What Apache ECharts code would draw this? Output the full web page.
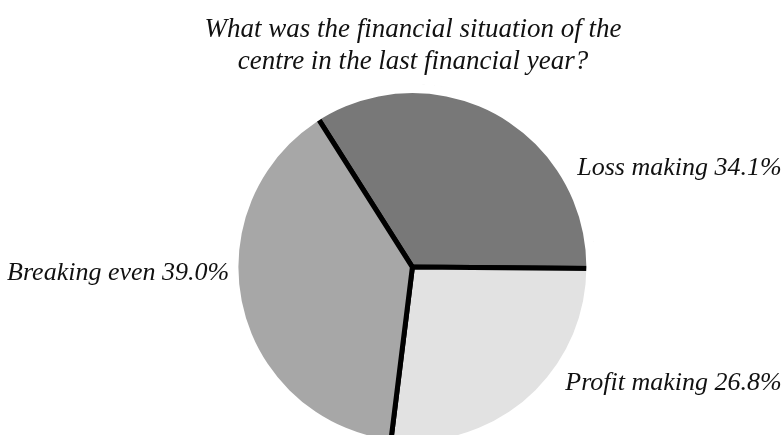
<!DOCTYPE html>
<html>
<head>
<meta charset="utf-8">
<script src="https://cdn.jsdelivr.net/npm/echarts@6/dist/echarts.min.js"></script>
<style>
html, body { margin: 0; padding: 0; background: #fff; }
#chart { width: 784px; height: 435px; }
</style>
</head>
<body>
<div id="chart"></div>
<script>
var categories = ['Loss making', 'Profit making', 'Breaking even'];
var shares = [34.1, 26.8, 39.0];
var colors = ['#787878', '#e2e2e2', '#a7a7a7'];
// where each label sits, as fractions of the chart box
var labelSpots = [[0.997, 0.386, 'right'], [0.997, 0.881, 'right'], [0.009, 0.628, 'left']];

var serif = '"Liberation Serif", "DejaVu Serif", serif';
var myChart = echarts.init(document.getElementById('chart'));

var pieData = categories.map(function (name, i) {
    return { name: name, value: shares[i], itemStyle: { color: colors[i] } };
});

myChart.setOption({
    animation: false,
    title: {
        text: 'What was the financial situation of the\ncentre in the last financial year?',
        left: 408,
        top: 9,
        textAlign: 'center',
        textStyle: {
            fontFamily: serif,
            fontStyle: 'italic',
            fontWeight: 'normal',
            fontSize: 27,
            lineHeight: 32,
            color: '#111'
        }
    },
    series: [
        {
            type: 'pie',
            center: ['52.6%', '61.4%'],
            radius: 180,
            startAngle: 122.4,
            clockwise: true,
            data: pieData,
            itemStyle: { borderColor: '#000', borderWidth: 5 },
            emphasis: { disabled: true },
            labelLine: { show: false },
            label: {
                show: true,
                position: 'outside',
                overflow: 'none',
                fontFamily: serif,
                fontStyle: 'italic',
                fontSize: 26,
                color: '#111',
                formatter: function (p) {
                    return p.name + ' ' + p.value.toFixed(1) + '%';
                }
            },
            labelLayout: function (p) {
                var s = labelSpots[p.dataIndex];
                return {
                    x: s[0] * 784,
                    y: s[1] * 435,
                    align: s[2],
                    verticalAlign: 'middle'
                };
            }
        },
        {
            // thin white ring hides the outer black border of the slices
            type: 'pie',
            silent: true,
            center: ['52.6%', '61.4%'],
            radius: [174, 183.5],
            z: 3,
            label: { show: false },
            labelLine: { show: false },
            itemStyle: { color: '#fff', borderWidth: 0 },
            data: [{ name: '', value: 1 }]
        }
    ]
});
</script>
</body>
</html>
